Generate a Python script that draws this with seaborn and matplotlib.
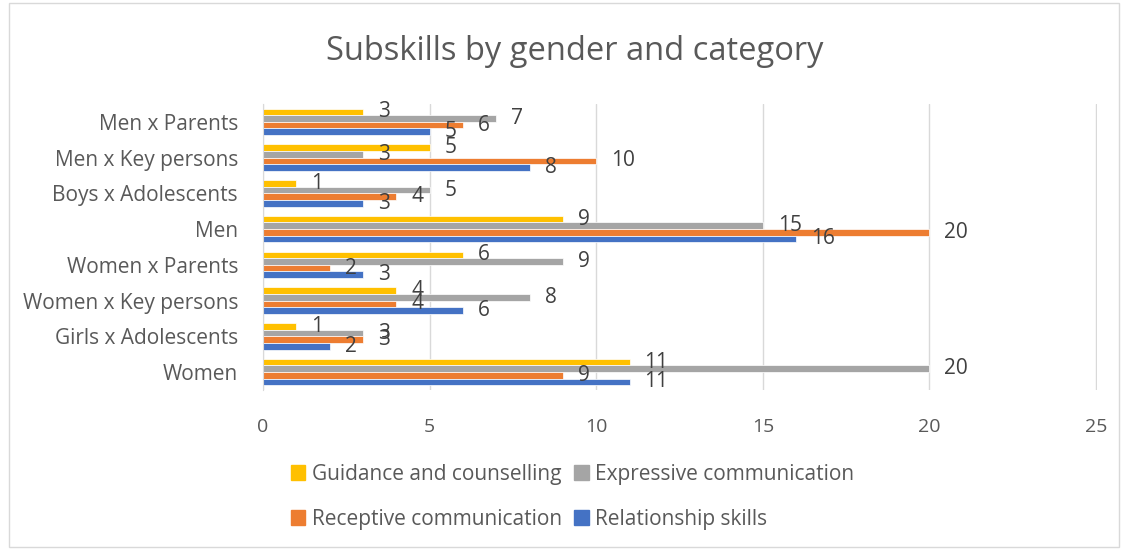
import matplotlib
matplotlib.use("Agg")
import matplotlib.pyplot as plt
import seaborn as sns
import pandas as pd
from matplotlib.patches import Rectangle

categories = ["Men x Parents", "Men x Key persons", "Boys x Adolescents", "Men",
              "Women x Parents", "Women x Key persons", "Girls x Adolescents", "Women"]
series = ["Guidance and counselling", "Expressive communication",
          "Receptive communication", "Relationship skills"]
guidance = [3, 5, 1, 9, 6, 4, 1, 11]
expressive = [7, 3, 5, 15, 9, 8, 3, 20]
receptive = [6, 10, 4, 20, 2, 4, 3, 9]
relationship = [5, 8, 3, 16, 3, 6, 2, 11]
colors = ["#FFC000", "#A5A5A5", "#ED7D31", "#4472C4"]
xticks = [0, 5, 10, 15, 20, 25]

values = [guidance, expressive, receptive, relationship]
rows = []
for s, vals in zip(series, values):
    for c, v in zip(categories, vals):
        rows.append({"category": c, "series": s, "value": v})
df = pd.DataFrame(rows)

sns.set_style("white")
plt.rcParams["font.family"] = ["Open Sans", "DejaVu Sans"]
text_color = "#595959"

fig = plt.figure(figsize=(11.27, 5.5), dpi=100)
ax = fig.add_axes([0.2334, 0.291, 0.74, 0.52])

sns.barplot(data=df, y="category", x="value", hue="series", order=categories,
            hue_order=series, palette=colors, orient="h", width=0.74,
            ax=ax, legend=False, saturation=1, edgecolor="white", linewidth=0.5)

for container in ax.containers:
    for bar in container:
        w = bar.get_width()
        yc = bar.get_y() + bar.get_height() / 2
        ax.text(w + 0.45, yc, f"{int(w)}", va="center", ha="left",
                fontsize=15, color="#404040")

ax.set_xlim(0, 25.03)
ax.set_xticks(xticks)
ax.set_xticklabels([str(t) for t in xticks], fontsize=14, color=text_color)
ax.tick_params(axis="y", labelsize=15, labelcolor=text_color, length=0, pad=18)
ax.tick_params(axis="x", length=0, pad=20)
ax.set_xlabel("")
ax.set_ylabel("")
ax.grid(axis="x", color="#D9D9D9", linewidth=1)
ax.set_axisbelow(True)
for sp in ["top", "right", "bottom"]:
    ax.spines[sp].set_visible(False)
ax.spines["left"].set_color("#D9D9D9")

fig.text(0.51, 0.907, "Subskills by gender and category", ha="center", va="center",
         fontsize=23.5, color=text_color)

handles = [Rectangle((0, 0), 1, 1, color=c) for c in colors]
order = [0, 2, 1, 3]
fig.legend([handles[i] for i in order], [series[i] for i in order],
           ncol=2, loc="center", bbox_to_anchor=(0.508, 0.097), frameon=False,
           fontsize=15, labelcolor=text_color, handlelength=0.7, handleheight=0.7,
           handletextpad=0.3, columnspacing=0.6, labelspacing=1.15)

fig.patches.append(Rectangle((0.008, 0.005), 0.985, 0.99, transform=fig.transFigure,
                             fill=False, edgecolor="#D9D9D9", linewidth=1))

fig.savefig("out.png", dpi=100, facecolor="white")
